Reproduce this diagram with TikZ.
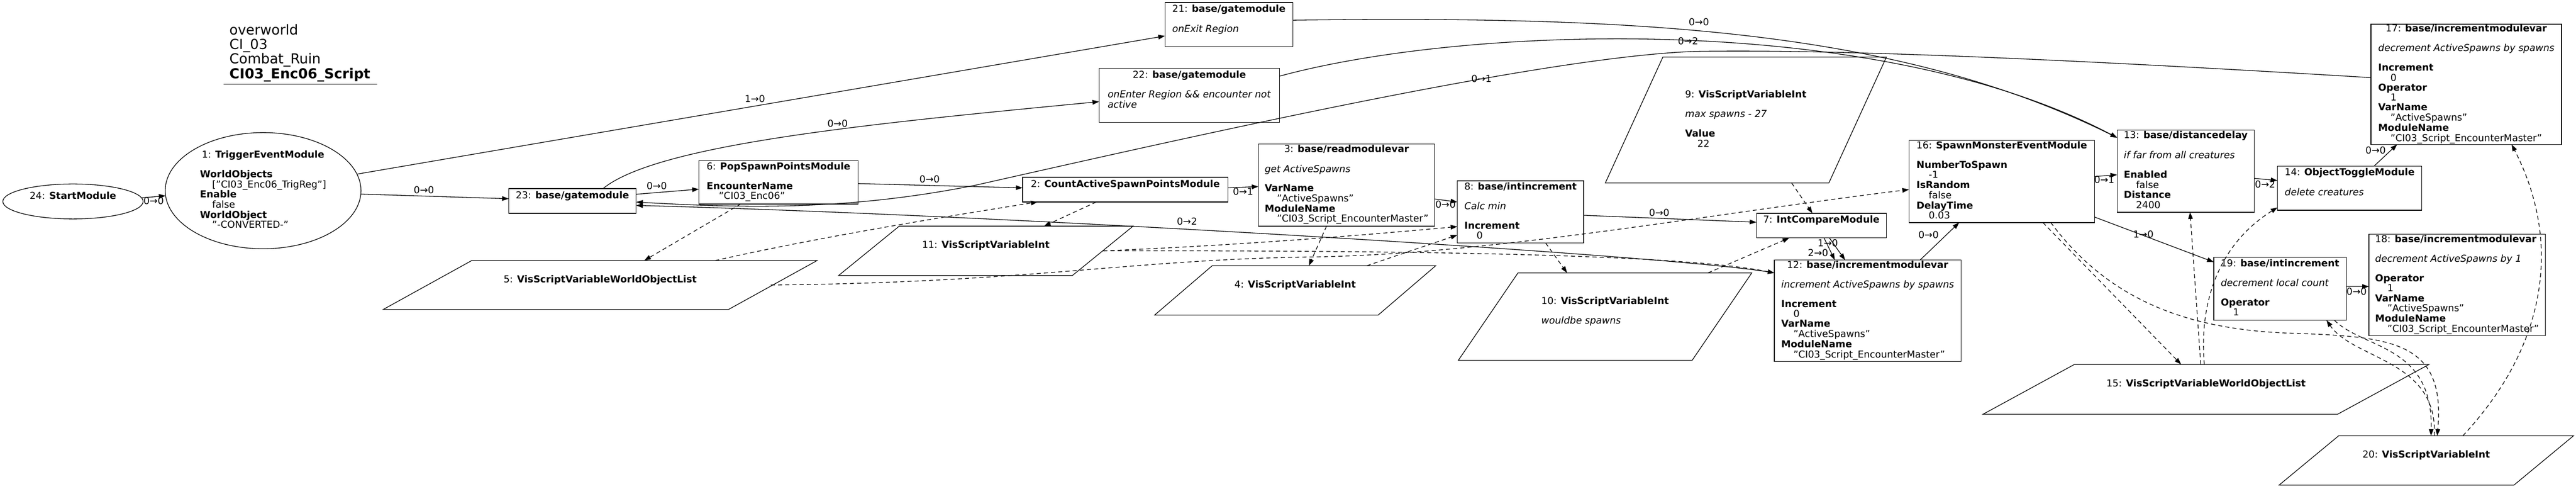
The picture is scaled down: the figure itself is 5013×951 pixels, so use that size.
\documentclass[tikz,border=0pt]{standalone}
\usepackage{fontspec}
\setmainfont{DejaVu Sans}
\usetikzlibrary{arrows.meta,shapes.geometric}

\newcommand\modfont{\fontsize{18.7pt}{18.6pt}\selectfont}
\newcommand\titlefont{\fontsize{26.8pt}{26.6pt}\selectfont}
\newcommand\mtab[1]{\begin{tabular}{@{}l@{}}#1\end{tabular}}
\newcommand\mhead[1]{\multicolumn{1}{@{}c@{}}{#1}}
\newcommand\mval[1]{\hspace*{23.8pt}#1}
\newcommand\drawvar[2]{\draw (#1.south west) -- ([xshift=#2]#1.north west) -- (#1.north east) -- ([xshift=-#2]#1.south east) -- cycle;}

\begin{document}
\begin{tikzpicture}[x=1pt, y=-1pt, line width=1.3pt,
  module/.style={rectangle, draw, inner sep=0pt, outer sep=0pt, font=\modfont},
  startmod/.style={ellipse, draw, inner sep=0pt, outer sep=0pt, font=\modfont},
  varbox/.style={rectangle, inner sep=0pt, outer sep=0pt, font=\modfont},
  elabel/.style={inner sep=0pt, font=\modfont},
  link/.style={-{Triangle[length=13pt,width=9pt]}},
  varlink/.style={link, dash pattern=on 8pt off 6pt}
]
\fill[white] (0,0) rectangle (5013,951);
\useasboundingbox (0,0) rectangle (5013,951);

\node[anchor=west, inner sep=0pt, font=\titlefont] (title) at (446,104) {\mtab{overworld\\CI\_03\\Combat\_Ruin\\\textbf{CI03\_Enc06\_Script}}};
\draw (435,164) -- (734,164);

\node[startmod, minimum width=273pt, minimum height=68pt] (m24) at (142,392) {\mtab{24: \textbf{StartModule}\\ \\}};
\node[startmod, minimum width=381pt, minimum height=226pt] (m1) at (512,371) {\mtab{\mhead{1: \textbf{TriggerEventModule}}\\ \\ \textbf{WorldObjects}\\ \mval{["CI03\_Enc06\_TrigReg"]}\\ \textbf{Enable}\\ \mval{false}\\ \textbf{WorldObject}\\ \mval{"-CONVERTED-"}}};

\node[module, minimum width=248pt, minimum height=48pt] (m23) at (1114,391) {\mtab{23: \textbf{base/gatemodule}\\ \\}};
\node[module, minimum width=310pt, minimum height=85pt] (m6) at (1515,354.5) {\mtab{6: \textbf{PopSpawnPointsModule}\\ \\ \textbf{EncounterName}\\ \mval{"CI03\_Enc06"}}};
\node[module, minimum width=400pt, minimum height=48pt] (m2) at (2190,369) {\mtab{2: \textbf{CountActiveSpawnPointsModule}\\ \\}};
\node[module, minimum width=343pt, minimum height=160pt] (m3) at (2620.5,360) {\mtab{\mhead{3: \textbf{base/readmodulevar}}\\ \\ \textit{get ActiveSpawns}\\ \\ \textbf{VarName}\\ \mval{"ActiveSpawns"}\\ \textbf{ModuleName}\\ \mval{"CI03\_Script\_EncounterMaster"}}};
\node[module, minimum width=246pt, minimum height=121pt] (m8) at (2959,412.5) {\mtab{8: \textbf{base/intincrement}\\ \\ \textit{Calc min}\\ \\ \textbf{Increment}\\ \mval{0}}};
\node[module, minimum width=253pt, minimum height=48pt] (m7) at (3544.5,439) {\mtab{7: \textbf{IntCompareModule}\\ \\}};
\node[module, minimum width=249pt, minimum height=86pt] (m21) at (2391.5,48) {\mtab{21: \textbf{base/gatemodule}\\ \\ \textit{onExit Region}\\ \\}};
\node[module, minimum width=351pt, minimum height=105pt] (m22) at (2314.5,185.5) {\mtab{\mhead{22: \textbf{base/gatemodule}}\\ \\ \textit{onEnter Region \&\& encounter not}\\ \textit{active}\\ \\}};
\node[module, minimum width=363pt, minimum height=197pt] (m12) at (3634.5,604.5) {\mtab{\mhead{12: \textbf{base/incrementmodulevar}}\\ \\ \textit{increment ActiveSpawns by spawns}\\ \\ \textbf{Increment}\\ \mval{0}\\ \textbf{VarName}\\ \mval{"ActiveSpawns"}\\ \textbf{ModuleName}\\ \mval{"CI03\_Script\_EncounterMaster"}}};
\node[module, minimum width=361pt, minimum height=160pt] (m16) at (3895.5,353) {\mtab{16: \textbf{SpawnMonsterEventModule}\\ \\ \textbf{NumberToSpawn}\\ \mval{-1}\\ \textbf{IsRandom}\\ \mval{false}\\ \textbf{DelayTime}\\ \mval{0.03}}};
\node[module, minimum width=267pt, minimum height=160pt] (m13) at (4253.5,333) {\mtab{13: \textbf{base/distancedelay}\\ \\ \textit{if far from all creatures}\\ \\ \textbf{Enabled}\\ \mval{false}\\ \textbf{Distance}\\ \mval{2400}}};
\node[module, minimum width=281pt, minimum height=86pt] (m14) at (4572.5,366) {\mtab{14: \textbf{ObjectToggleModule}\\ \\ \textit{delete creatures}\\ \\}};
\node[module, minimum width=371pt, minimum height=234pt] (m17) at (4799.5,164) {\mtab{\mhead{17: \textbf{base/incrementmodulevar}}\\ \\ \textit{decrement ActiveSpawns by spawns}\\ \\ \textbf{Increment}\\ \mval{0}\\ \textbf{Operator}\\ \mval{1}\\ \textbf{VarName}\\ \mval{"ActiveSpawns"}\\ \textbf{ModuleName}\\ \mval{"CI03\_Script\_EncounterMaster"}}};
\node[module, minimum width=343pt, minimum height=197pt] (m18) at (4781.5,554.5) {\mtab{18: \textbf{base/incrementmodulevar}\\ \\ \textit{decrement ActiveSpawns by 1}\\ \\ \textbf{Operator}\\ \mval{1}\\ \textbf{VarName}\\ \mval{"ActiveSpawns"}\\ \textbf{ModuleName}\\ \mval{"CI03\_Script\_EncounterMaster"}}};
\node[module, minimum width=258pt, minimum height=122pt] (m19) at (4437,562) {\mtab{19: \textbf{base/intincrement}\\ \\ \textit{decrement local count}\\ \\ \textbf{Operator}\\ \mval{1}}};

\node[varbox, minimum width=844pt, minimum height=95pt] (v5) at (1168,554.5) {\mtab{5: \textbf{VisScriptVariableWorldObjectList}\\ \\}};
\node[varbox, minimum width=573pt, minimum height=96pt] (v11) at (1918.5,488) {\mtab{11: \textbf{VisScriptVariableInt}\\ \\}};
\node[varbox, minimum width=547pt, minimum height=96pt] (v4) at (2520.5,565) {\mtab{4: \textbf{VisScriptVariableInt}\\ \\}};
\node[varbox, minimum width=571pt, minimum height=170pt] (v10) at (3123.5,616) {\mtab{10: \textbf{VisScriptVariableInt}\\ \\ \textit{wouldbe spawns}\\ \\}};
\node[varbox, minimum width=547pt, minimum height=245pt] (v9) at (3397.5,233.5) {\mtab{9: \textbf{VisScriptVariableInt}\\ \\ \textit{max spawns - 27}\\ \\ \textbf{Value}\\ \mval{22}}};
\node[varbox, minimum width=868pt, minimum height=97pt] (v15) at (4293,757.5) {\mtab{15: \textbf{VisScriptVariableWorldObjectList}\\ \\}};
\node[varbox, minimum width=573pt, minimum height=96pt] (v20) at (4721.5,896) {\mtab{20: \textbf{VisScriptVariableInt}\\ \\}};
\drawvar{v5}{172pt}
\drawvar{v11}{118pt}
\drawvar{v4}{112pt}
\drawvar{v10}{116pt}
\drawvar{v9}{112pt}
\drawvar{v15}{178pt}
\drawvar{v20}{116pt}

\draw[link] (m24.3) -- (m1.183);
\draw[link] (m1.358) -- (m23.178);
\draw[link] (m1.10) -- (m21.190);
\draw[link] (m23.6) -- (m6.185);
\draw[link] (m23.22) .. controls (1280,280) and (1700,240) .. (m22.184);
\draw[link] (m6.359) -- (m2.179);
\draw[link] (m2.1) -- (m3.181);
\draw[link] (m3.351) -- (m8.171);
\draw[link] (m8.357) -- (m7.177);
\draw[link] (m7.282) -- (m12.123);
\draw[link] (m7.303) -- (m12.114);
\draw[link] (m12.44) -- (m16.224);
\draw[link] (m16.3) -- (m13.183);
\draw[link] (m16.339) -- (m19.158);
\draw[link] (m13.354) -- (m14.174);
\draw[link] (m14.42) -- (m17.221);
\draw[link] (m19.2) -- (m18.181);
\draw[link] (m21.4) .. controls (3200,30) and (3700,60) .. (m13.154);
\draw[link] (m22.12) .. controls (2850,50) and (3650,20) .. (m13.154);
\draw[link] (m17.176) .. controls (4100,120) and (3600,95) .. (3300,100) .. controls (3000,110) and (2300,270) .. (1900,360) .. controls (1650,410) and (1450,405) .. (m23.359);
\draw[link] (m12.158) .. controls (3300,500) and (2000,420) .. (m23.356);

\draw[varlink] (m6.210) -- (v5.29);
\draw[varlink] (v5.12) .. controls (1600,460) and (1850,420) .. (m2.188);
\draw[varlink] ([xshift=-90pt]v5.east) .. controls (2000,550) and (2200,505) .. (2550,500) .. controls (2900,495) and (3300,420) .. (m16.185);
\draw[varlink] (m2.203) -- (v11.23);
\draw[varlink] ([xshift=-58pt]v11.east) .. controls (2400,478) and (2650,458) .. (m8.193);
\draw[varlink] ([xshift=-58pt]v11.east) .. controls (2900,487) and (3300,500) .. (m12.158);
\draw[varlink] (m3.244) -- (v4.61);
\draw[varlink] (v4.19) -- (m8.200);
\draw[varlink] (m8.309) -- (v10.131);
\draw[varlink] (v10.23) -- (m7.201);
\draw[varlink] (v9.306) -- (m7.126);
\draw[varlink] (m16.315) -- (v15.135);
\draw[varlink] (v15.102) -- (m13.276);
\draw[varlink] (v15.94) .. controls (4280,600) and (4310,480) .. (m14.195);
\draw[varlink] (m16.320) .. controls (4100,580) and (4250,640) .. (4450,648) .. controls (4650,655) and (4760,660) .. (v20.66);
\draw[varlink] (m19.330) .. controls (4600,680) and (4735,670) .. (v20.79);
\draw[varlink] (v20.72) .. controls (4745,700) and (4580,700) .. (m19.326);
\draw[varlink] (v20.34) .. controls (4950,680) and (4990,480) .. (m17.307);

\node[elabel] (lab24-1) at (299,391) {0→0};
\node[elabel] (lab1-23) at (825,370) {0→0};
\node[elabel] (lab1-21) at (1469,192) {1→0};
\node[elabel] (lab23-22) at (1630,240) {0→0};
\node[elabel] (lab23-6) at (1278,362) {0→0};
\node[elabel] (lab6-2) at (1809,349) {0→0};
\node[elabel] (lab2-3) at (2419,373) {0→1};
\node[elabel] (lab3-8) at (2813,398) {0→0};
\node[elabel] (lab8-7) at (3229,414) {0→0};
\node[elabel] (lab7-12a) at (3557,473) {1→0};
\node[elabel] (lab7-12b) at (3538,492) {2→0};
\node[elabel] (lab12-16) at (3753,457) {0→0};
\node[elabel] (lab16-13) at (4095,350) {0→1};
\node[elabel] (lab16-19) at (4171,456) {1→0};
\node[elabel] (lab13-14) at (4408,359) {0→2};
\node[elabel] (lab14-17) at (4623,292) {0→0};
\node[elabel] (lab19-18) at (4586,567) {0→0};
\node[elabel] (lab21-13) at (3306,43) {0→0};
\node[elabel] (lab22-13) at (3285,80) {0→2};
\node[elabel] (lab17-23) at (2883,153) {0→1};
\node[elabel] (lab12-23) at (2310,431) {0→2};
\end{tikzpicture}
\end{document}
